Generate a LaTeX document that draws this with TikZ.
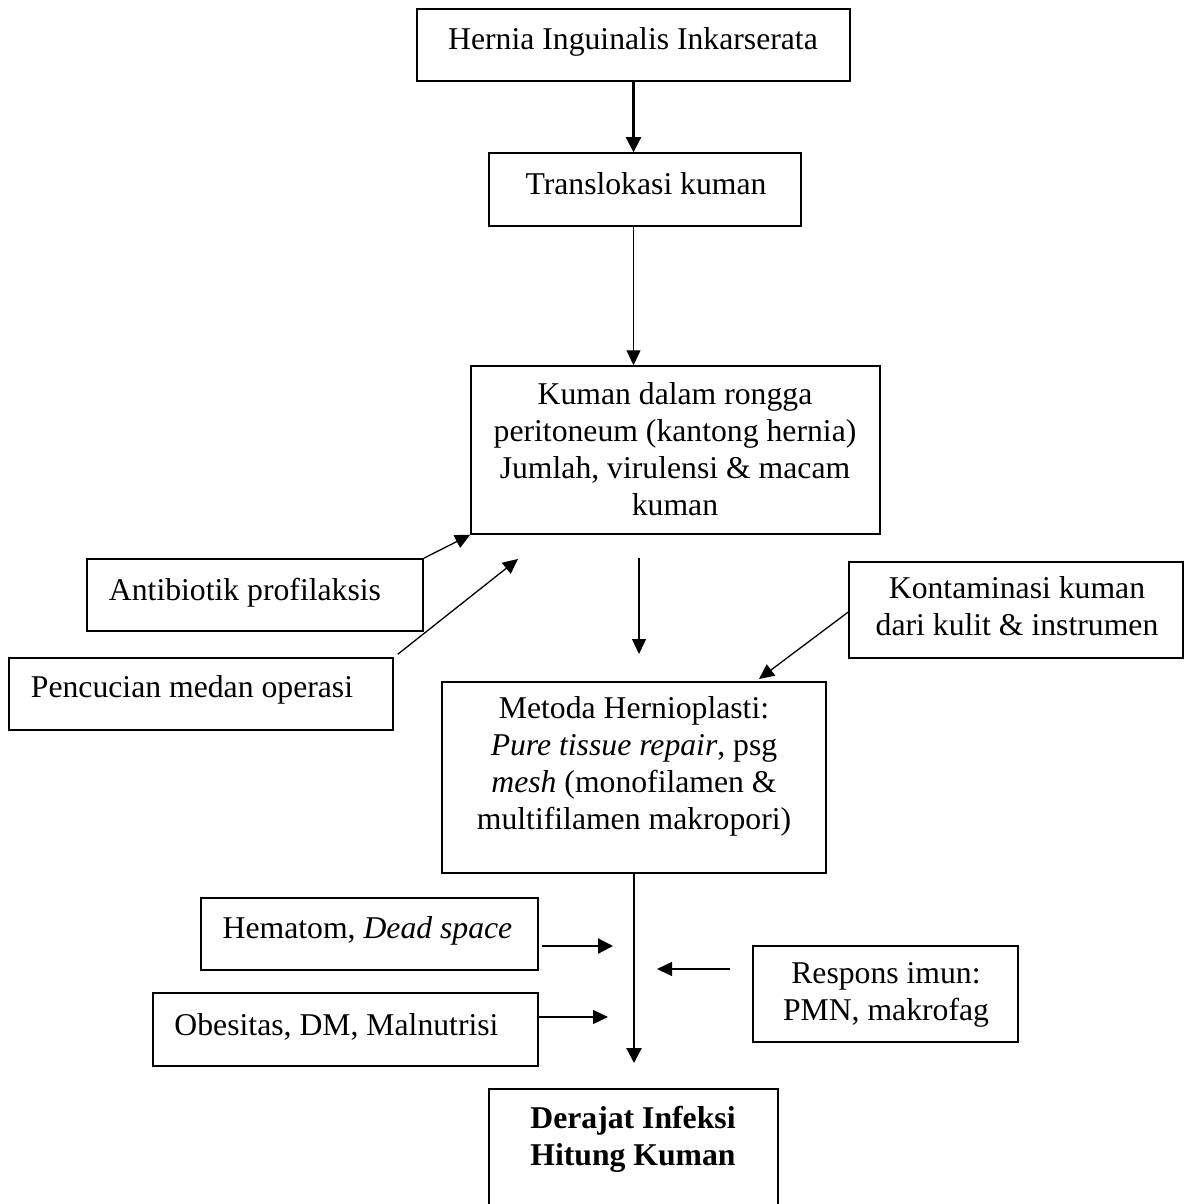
\documentclass[tikz,border=0pt]{standalone}
\usepackage{fontspec}
\setmainfont{Liberation Serif}
\usetikzlibrary{arrows.meta,calc}
\begin{document}
\begin{tikzpicture}[x=0.5pt,y=-0.5pt,
  box/.style={draw, line width=0.75pt, inner sep=0pt, rectangle},
  txt/.style={anchor=base, inner sep=0pt, align=center, font=\fontsize{15.85}{18.5}\selectfont},
  arr/.style={line width=0.65pt, -{Triangle[length=7.5pt,width=7pt]}},
  thickarr/.style={line width=1.1pt, -{Triangle[length=7.5pt,width=7.5pt]}}]
\useasboundingbox (0,0) rectangle (1184,1204);
\clip (0,0) rectangle (1184,1204);
% boxes
\node[box, minimum width=216.5pt, minimum height=36pt] (h1) at (633.5,45) {};
\node[box, minimum width=156pt, minimum height=36.5pt] (h2) at (645,189.5) {};
\node[box, minimum width=204.5pt, minimum height=84pt] (h3) at (675.5,450) {};
\node[box, minimum width=168pt, minimum height=36pt] (ab) at (255,595) {};
\node[box, minimum width=192pt, minimum height=36pt] (pc) at (201,694) {};
\node[box, minimum width=167pt, minimum height=48pt] (km) at (1016,610) {};
\node[box, minimum width=192pt, minimum height=95.5pt] (mt) at (634,777.5) {};
\node[box, minimum width=168.5pt, minimum height=36pt] (hm) at (369.5,934) {};
\node[box, minimum width=192.5pt, minimum height=36.5pt] (ob) at (345.5,1029.5) {};
\node[box, minimum width=132.5pt, minimum height=48pt] (rs) at (885.5,994) {};
\node[box, minimum width=144.5pt, minimum height=70.5pt] (dj) at (633.5,1159.5) {};
% texts (base anchor = baseline of the last line)
\node[txt] (t1) at (633,50) {Hernia Inguinalis Inkarserata};
\node[txt] (t2) at (646,194) {Translokasi kuman};
\node[txt] (t3) at (675,515) {Kuman dalam rongga\\peritoneum (kantong hernia)\\Jumlah, virulensi \& macam\\kuman};
\node[txt] (t4) at (245,600) {Antibiotik profilaksis};
\node[txt] (t5) at (192,697) {Pencucian medan operasi};
\node[txt] (t6) at (1017,635) {Kontaminasi kuman\\dari kulit \& instrumen};
\node[txt] (t7) at (634,829) {Metoda Hernioplasti:\\\textit{Pure tissue repair}, psg\\\textit{mesh} (monofilamen \&\\multifilamen makropori)};
\node[txt] (t8) at (367.5,938) {Hematom, \textit{Dead space}};
\node[txt] (t9) at (336.5,1035) {Obesitas, DM, Malnutrisi};
\node[txt] (t10) at (886,1020) {Respons imun:\\PMN, makrofag};
\node[txt] (t11) at (633,1165) {\bfseries Derajat Infeksi\\\bfseries Hitung Kuman};
% free connector ends
\coordinate (p4) at (518,559);
\coordinate (c5a) at (639,558);
\coordinate (c5b) at (639,654);
\coordinate (k6) at (759,679);
\coordinate (v7) at (634,1063);
\coordinate (h8a) at (542,946);
\coordinate (h8b) at (613,946);
\coordinate (o9) at (608,1017);
\coordinate (r10a) at (730,969);
\coordinate (r10b) at (657,969);
% connectors
\draw[thickarr] (h1.south) -- (h1.south |- h2.north);
\draw[arr] (h1.south |- h2.south) -- (h1.south |- h3.north);
\draw[arr] (ab.north east) -- (h3.south west);
\draw[arr] ($(pc.north east)+(4,-3)$) -- (p4);
\draw[arr] (c5a) -- (c5b);
\draw[arr] (km.west |- 0,612) -- (k6);
\draw[thickarr] (mt.south) -- (v7);
\draw[thickarr] (h8a) -- (h8b);
\draw[arr] (ob.east |- o9) -- (o9);
\draw[arr] (r10a) -- (r10b);
\end{tikzpicture}
\end{document}
